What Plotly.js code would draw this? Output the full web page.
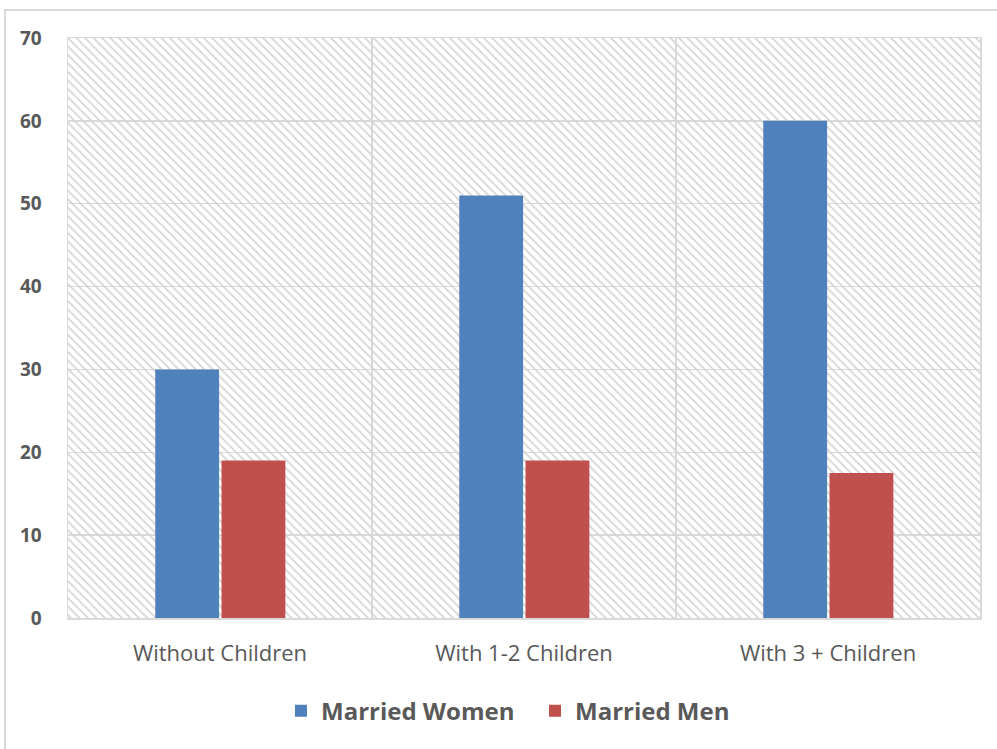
<!DOCTYPE html>
<html>
<head>
<meta charset="utf-8">
<script src="https://cdn.plot.ly/plotly-3.0.1.min.js"></script>
<style>html,body{margin:0;padding:0;background:#fff;}#chart{width:997px;height:749px;}</style>
</head>
<body>
<div id="chart"></div>
<script>
const categories = ["Without Children", "With 1-2 Children", "With 3 + Children"];
const marriedWomen = [30, 51, 60];
const marriedMen = [19, 19, 17.5];
const seriesNames = ["Married Women", "Married Men"];
const yTicks = [0, 10, 20, 30, 40, 50, 60, 70];
const yMax = 70;

const W = 997, H = 749;
const margin = {l: 68, r: 17, t: 38, b: 131};
const pw = W - margin.l - margin.r, ph = H - margin.t - margin.b;

const traces = [
  {
    type: 'bar', x: [categories[1]], y: [yMax], width: [categories.length],
    marker: {color: 'rgba(0,0,0,0)', line: {width: 0},
      pattern: {shape: '\\', fgcolor: '#d4d4d4', bgcolor: 'rgba(0,0,0,0)', size: 6, solidity: 0.3}},
    showlegend: false, hoverinfo: 'skip'
  },
  {
    type: 'bar', name: seriesNames[0], x: categories, y: marriedWomen,
    width: 0.21, offset: -0.213,
    marker: {color: '#4f81bd', line: {width: 0}}
  },
  {
    type: 'bar', name: seriesNames[1], x: categories, y: marriedMen,
    width: 0.21, offset: 0.005,
    marker: {color: '#c0504d', line: {width: 0}}
  }
];

const layout = {
  width: W, height: H,
  margin: margin,
  paper_bgcolor: '#ffffff', plot_bgcolor: '#ffffff',
  barmode: 'overlay',
  font: {family: 'Open Sans, sans-serif', color: '#595959'},
  xaxis: {
    type: 'category', categoryorder: 'array', categoryarray: categories,
    range: [-0.5, 2.5], tickson: 'boundaries',
    showgrid: true, gridcolor: '#d9d9d9', gridwidth: 1.5,
    showline: true, linecolor: '#d9d9d9', linewidth: 1.5, mirror: true,
    ticks: '', ticklabelstandoff: 15,
    tickfont: {size: 22, family: 'Open Sans, sans-serif', color: '#595959'},
    fixedrange: true
  },
  yaxis: {
    range: [0, yMax], tickvals: yTicks, ticktext: yTicks.map(String),
    showgrid: true, gridcolor: '#d9d9d9', gridwidth: 1.5,
    showline: true, linecolor: '#d9d9d9', linewidth: 1.5, mirror: true,
    zeroline: false, ticks: '', ticklabelstandoff: 21,
    tickfont: {size: 19, family: 'Open Sans, sans-serif', color: '#595959', weight: 'bold'},
    fixedrange: true
  },
  showlegend: true,
  legend: {
    orientation: 'h', x: (281 - margin.l) / pw, xanchor: 'left', y: -0.122, yanchor: 'top',
    font: {size: 24, family: 'Open Sans, sans-serif', color: '#595959', weight: 'bold'},
    itemwidth: 30, traceorder: 'normal', entrywidth: 209
  },
  shapes: [{
    type: 'rect', xref: 'paper', yref: 'paper',
    x0: (5 - margin.l) / pw, x1: (1010 - margin.l) / pw,
    y0: -(770 - margin.t - ph) / ph, y1: 1 + (margin.t - 10) / ph,
    line: {color: '#d9d9d9', width: 2}, layer: 'below'
  }]
};

Plotly.newPlot('chart', traces, layout, {displayModeBar: false, staticPlot: true});
</script>
</body>
</html>
